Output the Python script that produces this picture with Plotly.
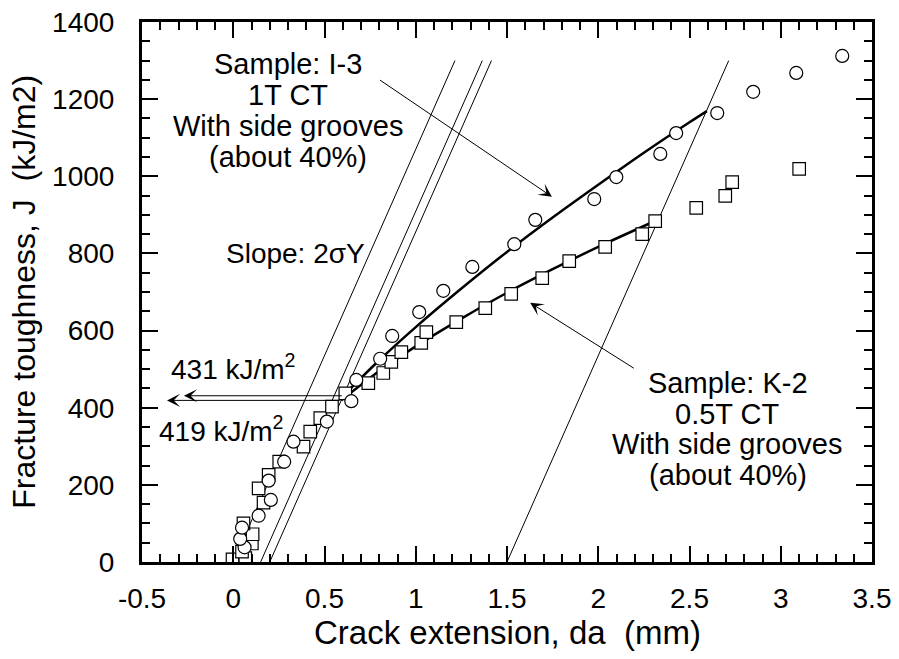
import plotly.graph_objects as go

# ---------------- data ----------------
# Sample I-3 (circles)
i3_da = [0.062, 0.038, 0.048, 0.139, 0.206, 0.194, 0.279, 0.330, 0.513, 0.647,
         0.674, 0.805, 0.871, 1.019, 1.151, 1.310, 1.540, 1.655, 1.978, 2.099,
         2.340, 2.427, 2.652, 2.849, 3.085, 3.337]
i3_J = [38, 60, 89, 120, 161, 211, 260, 312, 364, 417,
        472, 527, 586, 648, 703, 765, 824, 887, 941, 998,
        1058, 1112, 1164, 1219, 1268, 1312]

# Sample K-2 (squares)
k2_da = [-0.004, 0.066, 0.048, 0.102, 0.106, 0.056, 0.166, 0.139, 0.194, 0.252,
         0.385, 0.422, 0.477, 0.541, 0.614, 0.740, 0.822, 0.866, 0.921, 1.030,
         1.058, 1.222, 1.381, 1.523, 1.693, 1.841, 2.038, 2.241, 2.312, 2.537,
         2.696, 2.734, 3.101]
k2_J = [7, 10, 27, 48, 72, 100, 154, 191, 226, 260,
        299, 338, 373, 403, 437, 464, 490, 519, 544, 568,
        596, 622, 658, 695, 736, 780, 817, 850, 884, 918,
        949, 985, 1019]

# fitted R-curves
i3_fit_da = [0.603, 0.8, 1.0, 1.25, 1.5, 1.75, 2.0, 2.25, 2.5, 2.595]
i3_fit_J = [431, 523, 609, 709, 804, 893, 978, 1061, 1140, 1169]
k2_fit_da = [0.592, 0.8, 1.0, 1.25, 1.5, 1.75, 2.0, 2.33]
k2_fit_J = [419, 495, 559, 631, 698, 759, 817, 888]

# blunting / exclusion lines (slope 2*sigmaY)
line_offsets = [0.0, 0.15, 0.2, 1.5]
line_slope = 1070
line_top_J = 1300

# JQ values
jq_values = [431, 419]
jq_start_da = [0.603, 0.592]
jq_tip_da = [-0.27, -0.363]

x_ticks = [-0.5, 0, 0.5, 1, 1.5, 2, 2.5, 3, 3.5]
x_ticktext = ["-0.5", "0", "0.5", "1", "1.5", "2", "2.5", "3", "3.5"]
y_ticks = [0, 200, 400, 600, 800, 1000, 1200, 1400]

FONT = "Liberation Sans, Arial, Helvetica, sans-serif"

fig = go.Figure()

# slope lines
for off in line_offsets:
    fig.add_trace(go.Scatter(
        x=[off, off + line_top_J / line_slope], y=[0, line_top_J],
        mode="lines", line=dict(color="black", width=1), showlegend=False,
        hoverinfo="skip"))

# fitted curves
fig.add_trace(go.Scatter(x=i3_fit_da, y=i3_fit_J, mode="lines",
                         line=dict(color="black", width=2.5, shape="spline"),
                         showlegend=False))
fig.add_trace(go.Scatter(x=k2_fit_da, y=k2_fit_J, mode="lines",
                         line=dict(color="black", width=2.5, shape="spline"),
                         showlegend=False))

# data markers
fig.add_trace(go.Scatter(x=k2_da, y=k2_J, mode="markers",
                         marker=dict(symbol="square", size=12.5, color="white",
                                     line=dict(color="black", width=1.2)),
                         showlegend=False))
fig.add_trace(go.Scatter(x=i3_da, y=i3_J, mode="markers",
                         marker=dict(symbol="circle", size=13, color="white",
                                     line=dict(color="black", width=1.2)),
                         showlegend=False))

ann = []
# JQ arrows
for v, s, t in zip(jq_values, jq_start_da, jq_tip_da):
    ann.append(dict(x=t, y=v, ax=s, ay=v, xref="x", yref="y", axref="x", ayref="y",
                    text="", showarrow=True, arrowhead=3, arrowsize=2.2,
                    arrowwidth=1, arrowcolor="black"))

# sample arrows
ann.append(dict(x=1.746, y=947, ax=0.796, ay=1252, xref="x", yref="y",
                axref="x", ayref="y", text="", showarrow=True, arrowhead=3,
                arrowsize=2.2, arrowwidth=1, arrowcolor="black"))
ann.append(dict(x=1.627, y=672, ax=2.203, ay=500, xref="x", yref="y",
                axref="x", ayref="y", text="", showarrow=True, arrowhead=3,
                arrowsize=2.2, arrowwidth=1, arrowcolor="black"))

def txt(x, y, s, xanchor="center", size=29):
    ann.append(dict(x=x, y=y, xref="x", yref="y", text=s, showarrow=False,
                    xanchor=xanchor, yanchor="middle",
                    font=dict(family=FONT, size=size, color="black")))

i3_lines = ["Sample: I-3", "1T CT", "With side grooves", "(about 40%)"]
for k, s in enumerate(i3_lines):
    txt(0.301, 1290 - 80 * k, s)
k2_lines = ["Sample: K-2", "0.5T CT", "With side grooves", "(about 40%)"]
for k, s in enumerate(k2_lines):
    txt(2.71, 465 - 80 * k, s)

txt(0.34, 800, "Slope: 2σY", size=28)
txt(-0.35, 505, "431 kJ/m<sup>2</sup>", xanchor="left", size=28)
txt(-0.42, 345, "419 kJ/m<sup>2</sup>", xanchor="left", size=28)

# axis titles
ann.append(dict(x=0.5, y=-0.13, xref="paper", yref="paper",
                text="Crack extension, da  (mm)", showarrow=False,
                xanchor="center", yanchor="middle",
                font=dict(family=FONT, size=33, color="black")))
ann.append(dict(x=-0.162, y=0.5, xref="paper", yref="paper",
                text="Fracture toughness, J  (kJ/m2)", showarrow=False,
                textangle=-90, xanchor="center", yanchor="middle",
                font=dict(family=FONT, size=32, color="black")))

axis_common = dict(showline=True, linewidth=3, linecolor="black", mirror="allticks",
                   ticks="inside", ticklen=16, tickwidth=2, tickcolor="black",
                   showgrid=False, zeroline=False,
                   tickfont=dict(family=FONT, size=28, color="black"))

fig.update_xaxes(range=[-0.5, 3.5], tickvals=x_ticks, ticktext=x_ticktext,
                 minor=dict(dtick=0.1, ticks="inside", ticklen=8, tickwidth=1.5,
                            tickcolor="black", showgrid=False),
                 ticklabelstandoff=9, **axis_common)
fig.update_yaxes(range=[0, 1400], tickvals=y_ticks,
                 minor=dict(dtick=50, ticks="inside", ticklen=8, tickwidth=1.5,
                            tickcolor="black", showgrid=False),
                 ticklabelstandoff=19, **axis_common)

fig.update_layout(width=899, height=659, plot_bgcolor="white", paper_bgcolor="white",
                  margin=dict(l=142, r=27, t=22, b=97, autoexpand=False),
                  annotations=ann, showlegend=False,
                  font=dict(family=FONT, color="black"))

fig.write_html("out.html", config={"displayModeBar": False},
               post_script="document.body.style.margin='0';"
                           "document.body.style.overflow='hidden';")
